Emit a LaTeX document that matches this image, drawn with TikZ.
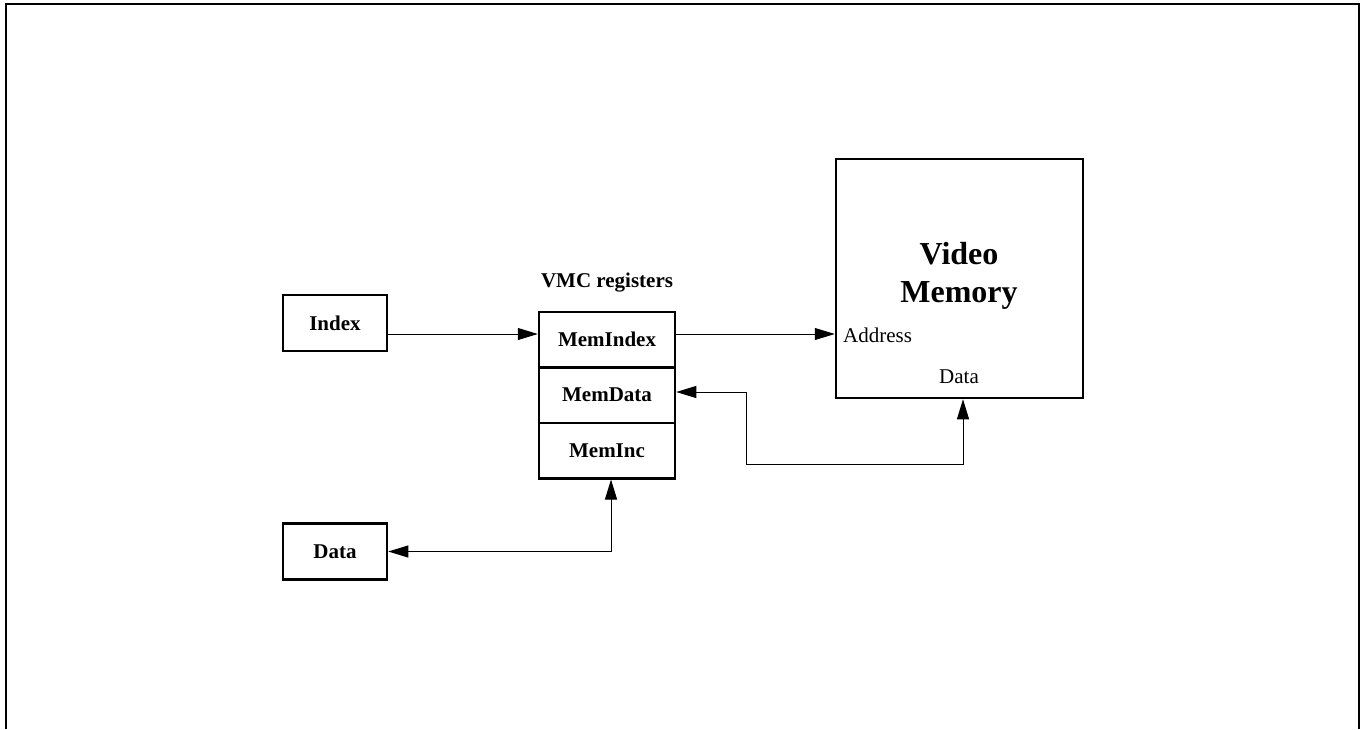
\documentclass[tikz,border=0pt]{standalone}
\usepackage{fontspec}
\setmainfont{Liberation Serif}
\usetikzlibrary{arrows.meta}
\begin{document}
\begin{tikzpicture}[x=1pt,y=-1pt,
  lbl/.style={font=\fontsize{21}{25}\selectfont\bfseries},
  plain/.style={font=\fontsize{21}{25}\selectfont},
  box/.style={draw,line width=2.5pt,rectangle,inner sep=0pt,lbl},
  reg/.style={box,minimum width=136pt,minimum height=55.5pt},
  smallbox/.style={box,minimum width=104pt,minimum height=56pt},
  tip/.tip={Triangle[length=20pt,width=12pt]},
  link/.style={line width=1pt,-tip},
  biLink/.style={line width=1pt,tip-tip}
]
\useasboundingbox (0,0) rectangle (1364,729);

% outer frame (open at the bottom)
\draw[line width=2.5pt] (6,729) -- (6,4) -- (1359,4) -- (1359,729);

% inputs
\node[smallbox] (index) at (335,323) {Index};
\node[smallbox] (data) at (335,551.5) {Data};

% VMC register stack
\node[reg] (memindex) at (607,339.5) {MemIndex};
\node[reg] (memdata) at (607,395) {MemData};
\node[reg] (meminc) at (607,450.5) {MemInc};
\node[lbl,anchor=base] (vmctitle) at (607,287) {VMC registers};

% video memory
\node[draw,line width=2.5pt,rectangle,minimum width=247pt,minimum height=239pt] (vm) at (959.5,278.5) {};
\node[font=\fontsize{32}{38}\selectfont\bfseries,align=center] (vmtitle) at (959,276) {Video\\Memory};
\node[plain,anchor=base west,inner sep=0pt] (addr) at (843,342) {Address};
\node[plain,anchor=base,inner sep=0pt] (vmdata) at (959,383) {Data};

% connections
\coordinate (bend) at (746,464);
\draw[link] ([yshift=-11pt]index.east) -- ([yshift=5.5pt]memindex.west);
\draw[link] ([yshift=5.5pt]memindex.east) -- ([yshift=-55.5pt]vm.west);
\draw[biLink] ([yshift=3pt]memdata.east) -| (bend) -| ([xshift=3.5pt]vm.south);
\draw[biLink] (data.east) -| ([xshift=4pt]meminc.south);
\end{tikzpicture}
\end{document}
